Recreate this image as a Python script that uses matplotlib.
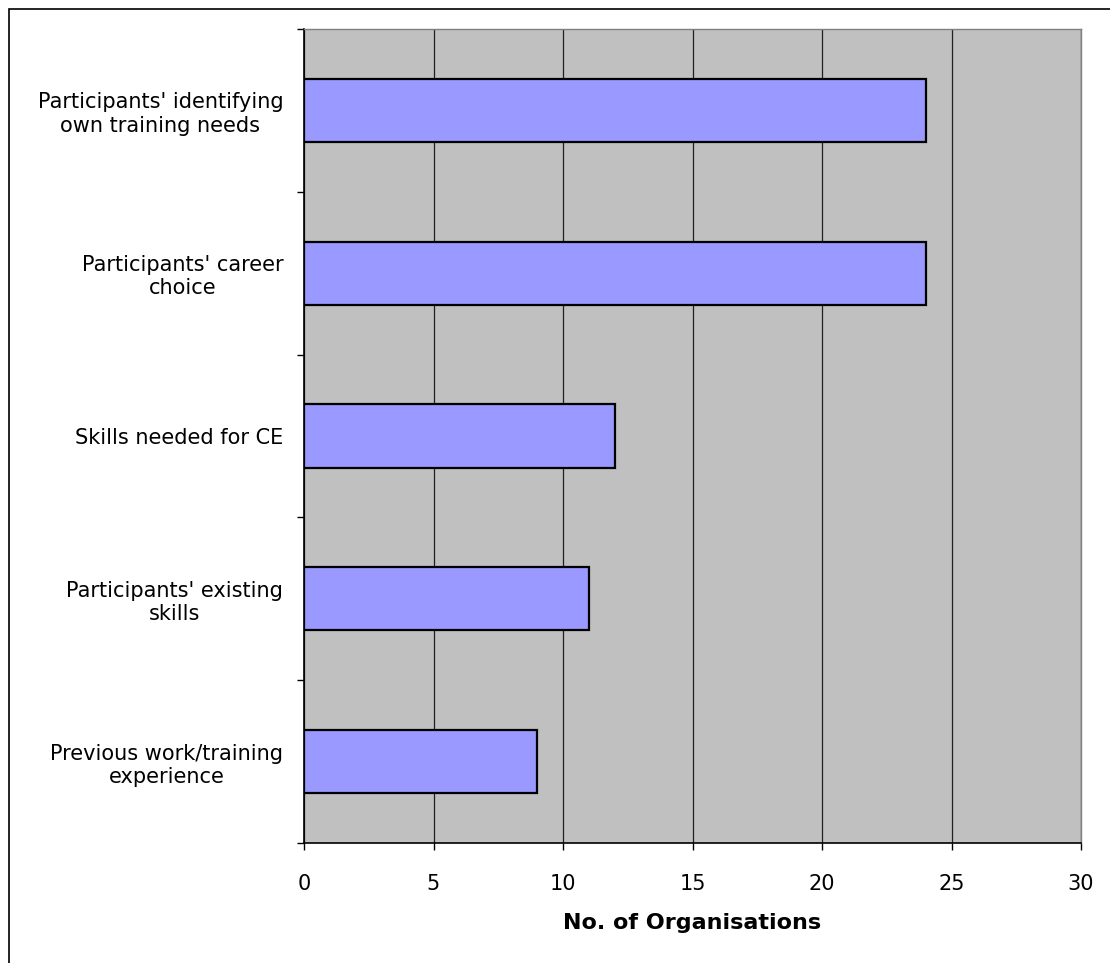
import matplotlib
matplotlib.use("Agg")
import matplotlib.pyplot as plt
from matplotlib.patches import Rectangle

# data (top to bottom)
categories = ["Participants' identifying\nown training needs",
              "Participants' career\nchoice",
              "Skills needed for CE",
              "Participants' existing\nskills",
              "Previous work/training\nexperience"]
counts = [24, 24, 12, 11, 9]
x_ticks = [0, 5, 10, 15, 20, 25, 30]

plt.rcParams['font.family'] = ['DejaVu Sans']

W, H = 1110, 963
fig = plt.figure(figsize=(W / 100, H / 100), dpi=100)
# plot area: x 304..1081, y 29..843 (pixels)
ax = fig.add_axes([304 / W, 1 - 843 / H, (1081 - 304) / W, (843 - 29) / H])

# outer chart border (right/bottom edges fall outside the image)
fig.patches.append(Rectangle((9 / W, -0.1), 1.2, 1.1 - 9 / H, transform=fig.transFigure,
                             fill=False, edgecolor='black', linewidth=1.2))

ax.set_facecolor('#c0c0c0')
pos = list(range(len(categories)))
ax.barh(pos, counts, height=0.387, color='#9999ff', edgecolor='black', linewidth=1.6, zorder=3)

ax.set_xlim(0, 30)
ax.set_ylim(len(categories) - 0.5, -0.5)
ax.set_xticks(x_ticks)
ax.set_xticklabels([str(t) for t in x_ticks], fontsize=15)
ax.xaxis.grid(True, color='#202020', linewidth=0.9, zorder=1)
ax.set_axisbelow(True)

# category labels between boundary ticks
ax.set_yticks(pos)
ax.set_yticklabels(categories, fontsize=15, multialignment='center', linespacing=1.2)
ax.tick_params(axis='y', length=0, pad=15)
ax.set_yticks([p - 0.5 for p in range(len(categories) + 1)], minor=True)
ax.tick_params(axis='y', which='minor', length=5, width=1, direction='out')
ax.tick_params(axis='x', length=5, width=1, direction='out', pad=17)

for s in ['top', 'right']:
    ax.spines[s].set_color('#808080')
    ax.spines[s].set_linewidth(1.0)
for s in ['left', 'bottom']:
    ax.spines[s].set_color('black')
    ax.spines[s].set_linewidth(1.2)

ax.set_xlabel('No. of Organisations', fontsize=16, fontweight='bold', labelpad=14)

fig.savefig('out.png', dpi=100)
